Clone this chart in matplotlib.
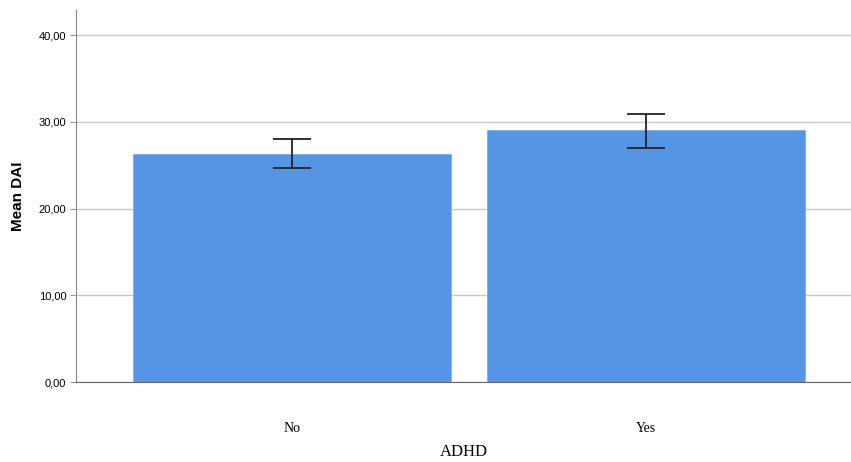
import matplotlib
matplotlib.use("Agg")
from matplotlib import pyplot as plt

# данные
groups = ["No", "Yes"]
means = [26.28, 29.05]
ci_low = [24.67, 26.97]
ci_high = [28.01, 30.89]
yticks = [0, 10, 20, 30, 40]
ytick_labels = ["0,00", "10,00", "20,00", "30,00", "40,00"]

fig = plt.figure(figsize=(8.51, 4.62), dpi=100, facecolor="white")
ax = fig.add_axes([76 / 851, 1 - 382 / 462, 1 - 76 / 851, (382 - 10) / 462])

x = range(len(groups))
err = [[m - lo for m, lo in zip(means, ci_low)], [hi - m for m, hi in zip(means, ci_high)]]

ax.set_axisbelow(True)
ax.yaxis.grid(True, color="#c8c8c8", linewidth=1)
ax.bar(x, means, width=0.9, color="#5595E4", edgecolor="#7aaeea", linewidth=0.6, zorder=2)
ax.errorbar(x, means, yerr=err, fmt="none", ecolor="#222222", elinewidth=1.3,
            capsize=14, capthick=1.3, zorder=3)

ax.set_xlim(-0.61, 1.58)
ax.set_ylim(0, 42.9)
ax.set_yticks(yticks)
ax.set_yticklabels(ytick_labels, fontsize=8, family="Liberation Sans")
ax.set_xticks(list(x))
ax.set_xticklabels(groups, fontsize=10, family="Liberation Serif")
ax.tick_params(axis="x", length=0, pad=29)
ax.tick_params(axis="y", length=4, color="#999999", pad=3)

for s in ["top", "right"]:
    ax.spines[s].set_visible(False)
ax.spines["left"].set_color("#888888")
ax.spines["bottom"].set_color("#666666")

ax.set_ylabel("Mean DAI", fontsize=11, fontweight="bold", family="Liberation Sans", labelpad=10)
ax.set_xlabel("ADHD", fontsize=12, family="Liberation Serif", labelpad=6)

plt.savefig("out.png", dpi=100, facecolor="white")
